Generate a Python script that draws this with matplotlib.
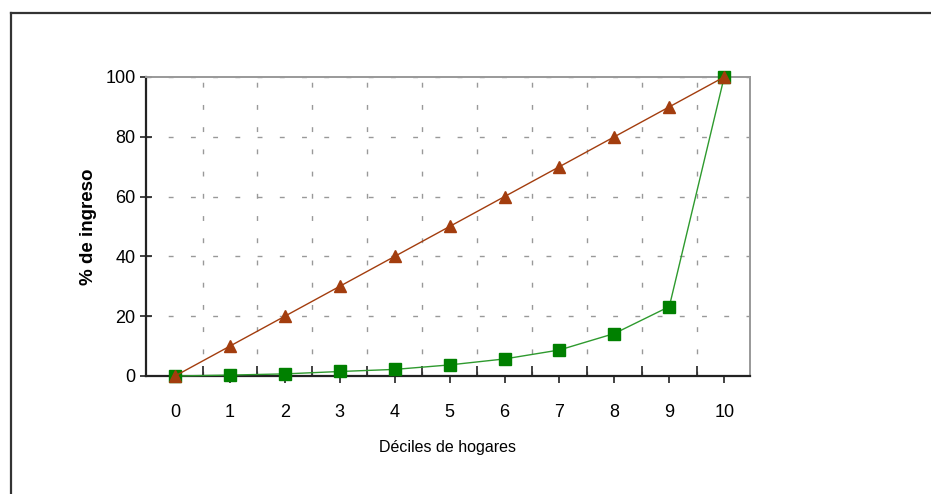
import matplotlib
matplotlib.use("Agg")
import matplotlib.pyplot as plt
from matplotlib.lines import Line2D
import numpy as np

plt.rcParams['font.family'] = ['Liberation Sans', 'DejaVu Sans']

# datos
deciles = [0, 1, 2, 3, 4, 5, 6, 7, 8, 9, 10]
igualdad = [0, 10, 20, 30, 40, 50, 60, 70, 80, 90, 100]
lorenz = [0, 0.3, 0.7, 1.5, 2.2, 3.7, 5.7, 8.7, 14.2, 23.2, 100]

fig = plt.figure(figsize=(9.31, 4.94), dpi=100)

# marco exterior
fig.add_artist(Line2D([0.0118, 0.0118], [0.9737, 0.0], color='#333333', lw=1.6, transform=fig.transFigure))
fig.add_artist(Line2D([0.0118, 1.0], [0.9737, 0.9737], color='#333333', lw=1.6, transform=fig.transFigure))

ax = fig.add_axes([0.1568, 0.2389, 0.6488, 0.6053])

ax.plot(deciles, igualdad, color='#a33d0e', lw=1.0, marker='^', markersize=8.5, zorder=4, clip_on=False)
ax.plot(deciles, lorenz, color='#2e9a2e', lw=1.0, marker='s', markersize=8.5,
        markerfacecolor='#008000', markeredgecolor='#008000', zorder=3, clip_on=False)

ax.set_xlim(-0.53, 10.47)
ax.set_ylim(0, 100)
ax.set_xticks(deciles)
ax.set_xticks(np.arange(0.5, 10.5, 1), minor=True)
ax.set_yticks([0, 20, 40, 60, 80, 100])

ax.tick_params(axis='x', which='major', direction='out', length=5, width=1.2, labelsize=13, pad=15, color='#222222')
ax.tick_params(axis='x', which='minor', direction='in', length=7, width=1.2, color='#222222')
ax.tick_params(axis='y', which='major', direction='inout', length=9, width=1.2, labelsize=13, pad=3, color='#222222')

dash = (0, (3.5, 12.5))
ax.grid(True, axis='x', which='minor', linestyle=dash, color='#999999', lw=1.0)
ax.grid(False, axis='x', which='major')
ax.grid(True, axis='y', which='major', linestyle=dash, color='#999999', lw=1.0)

for s in ['left', 'bottom']:
    ax.spines[s].set_color('#222222')
    ax.spines[s].set_linewidth(1.6)
for s in ['top', 'right']:
    ax.spines[s].set_color('#999999')
    ax.spines[s].set_linewidth(1.4)

ax.set_xlabel('Déciles de hogares', fontsize=11.5, labelpad=14)
ax.set_ylabel('% de ingreso', fontsize=13.5, fontweight='bold', labelpad=6)

fig.savefig('out.png', dpi=100)
